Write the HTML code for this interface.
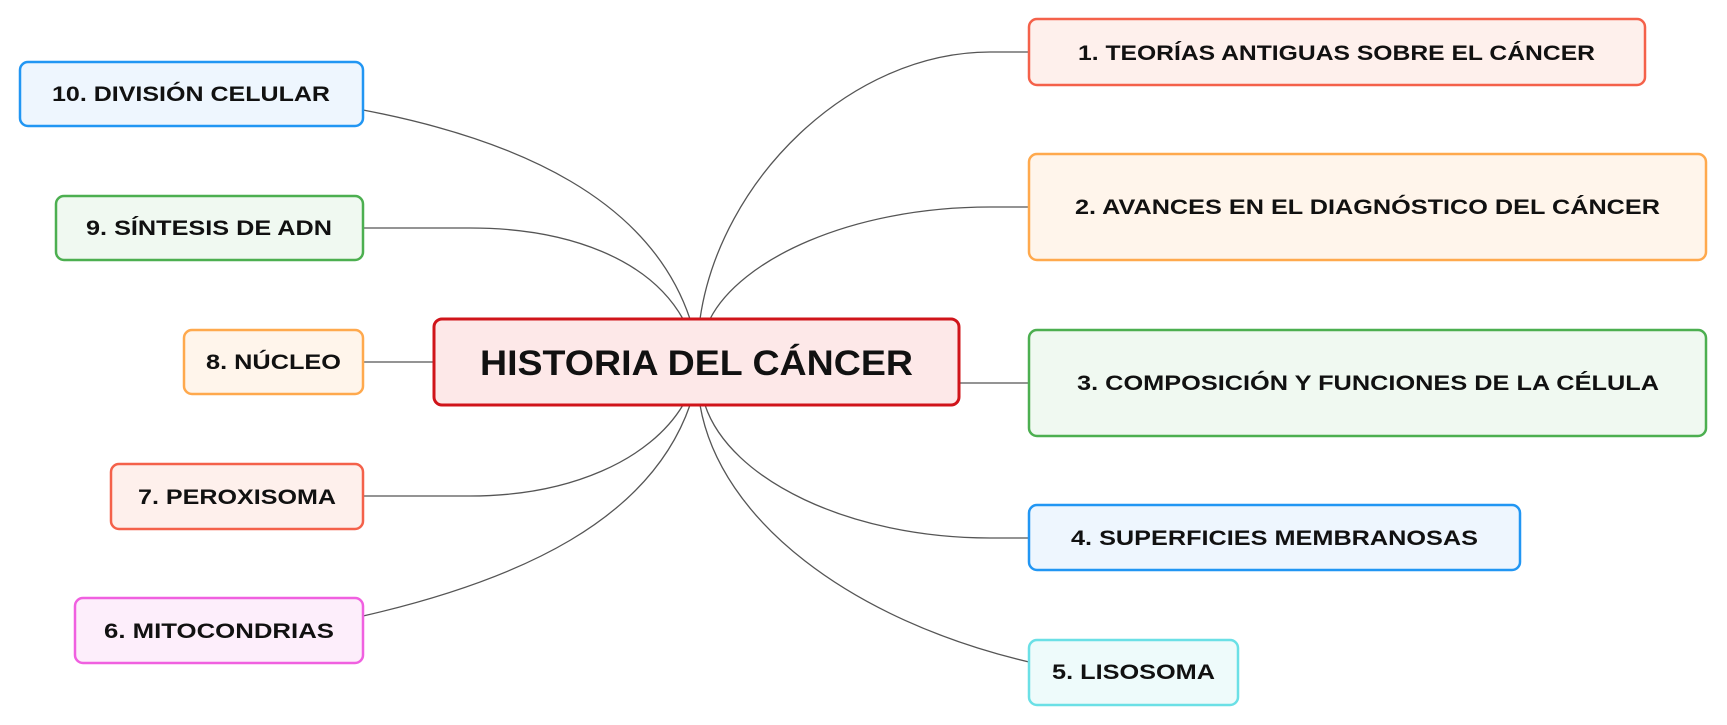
<!DOCTYPE html>
<html><head><meta charset="utf-8"><style>
html,body{margin:0;padding:0;background:#fff;}
svg{display:block;}
text{font-family:"Liberation Sans",sans-serif;font-weight:bold;fill:#111;}
</style></head><body>
<svg width="1727" height="725" viewBox="0 0 1727 725" xmlns="http://www.w3.org/2000/svg">
<g fill="none" stroke="#555" stroke-width="1.3">
<path d="M690,319 C650,200 520,140 363,110"/>
<path d="M683,319 C650,260 570,228 470,228 L363,228"/>
<path d="M434,362 L363,362"/>
<path d="M683,405 C650,460 570,496 470,496 L363,496"/>
<path d="M690,405 C650,520 520,580 363,616"/>
<path d="M700,319 C720,180 850,52 990,52 L1029,52"/>
<path d="M710,319 C740,260 850,207 990,207 L1029,207"/>
<path d="M959,383 L1029,383"/>
<path d="M705,405 C730,480 850,538 990,538 L1029,538"/>
<path d="M700,405 C720,520 850,620 1029,662"/>
</g>
<g stroke-width="2.5">
<rect x="20" y="62" width="343" height="64" rx="8" fill="#EEF6FE" stroke="#2196F3"/>
<rect x="56" y="196" width="307" height="64" rx="8" fill="#F0F9F1" stroke="#4CAF50"/>
<rect x="184" y="330" width="179" height="64" rx="8" fill="#FFF5EB" stroke="#FFA94D"/>
<rect x="111" y="464" width="252" height="65" rx="8" fill="#FEF0EC" stroke="#F4614A"/>
<rect x="75" y="598" width="288" height="65" rx="8" fill="#FDEEFB" stroke="#F060E0"/>
<rect x="434" y="319" width="525" height="86" rx="8" fill="#FDE8E8" stroke="#D0141A" stroke-width="3"/>
<rect x="1029" y="19" width="616" height="66" rx="8" fill="#FEF0EC" stroke="#F4614A"/>
<rect x="1029" y="154" width="677" height="106" rx="8" fill="#FFF5EB" stroke="#FFA94D"/>
<rect x="1029" y="330" width="677" height="106" rx="8" fill="#F0F9F1" stroke="#4CAF50"/>
<rect x="1029" y="505" width="491" height="65" rx="8" fill="#EEF6FE" stroke="#2196F3"/>
<rect x="1029" y="640" width="209" height="65" rx="8" fill="#EEFBFB" stroke="#6BE0E6"/>
</g>
<g font-size="21">
<text x="52" y="101" textLength="278" lengthAdjust="spacingAndGlyphs">10. DIVISIÓN CELULAR</text>
<text x="86" y="235" textLength="246" lengthAdjust="spacingAndGlyphs">9. SÍNTESIS DE ADN</text>
<text x="206" y="369" textLength="135" lengthAdjust="spacingAndGlyphs">8. NÚCLEO</text>
<text x="138" y="504" textLength="198" lengthAdjust="spacingAndGlyphs">7. PEROXISOMA</text>
<text x="104" y="638" textLength="230" lengthAdjust="spacingAndGlyphs">6. MITOCONDRIAS</text>
<text x="1078" y="60" textLength="517" lengthAdjust="spacingAndGlyphs">1. TEORÍAS ANTIGUAS SOBRE EL CÁNCER</text>
<text x="1075" y="214" textLength="585" lengthAdjust="spacingAndGlyphs">2. AVANCES EN EL DIAGNÓSTICO DEL CÁNCER</text>
<text x="1077" y="390" textLength="582" lengthAdjust="spacingAndGlyphs">3. COMPOSICIÓN Y FUNCIONES DE LA CÉLULA</text>
<text x="1071" y="545" textLength="407" lengthAdjust="spacingAndGlyphs">4. SUPERFICIES MEMBRANOSAS</text>
<text x="1052" y="679" textLength="163" lengthAdjust="spacingAndGlyphs">5. LISOSOMA</text>
</g>
<text x="480" y="375" font-size="35" textLength="433" lengthAdjust="spacingAndGlyphs">HISTORIA DEL CÁNCER</text>
</svg>
</body></html>
